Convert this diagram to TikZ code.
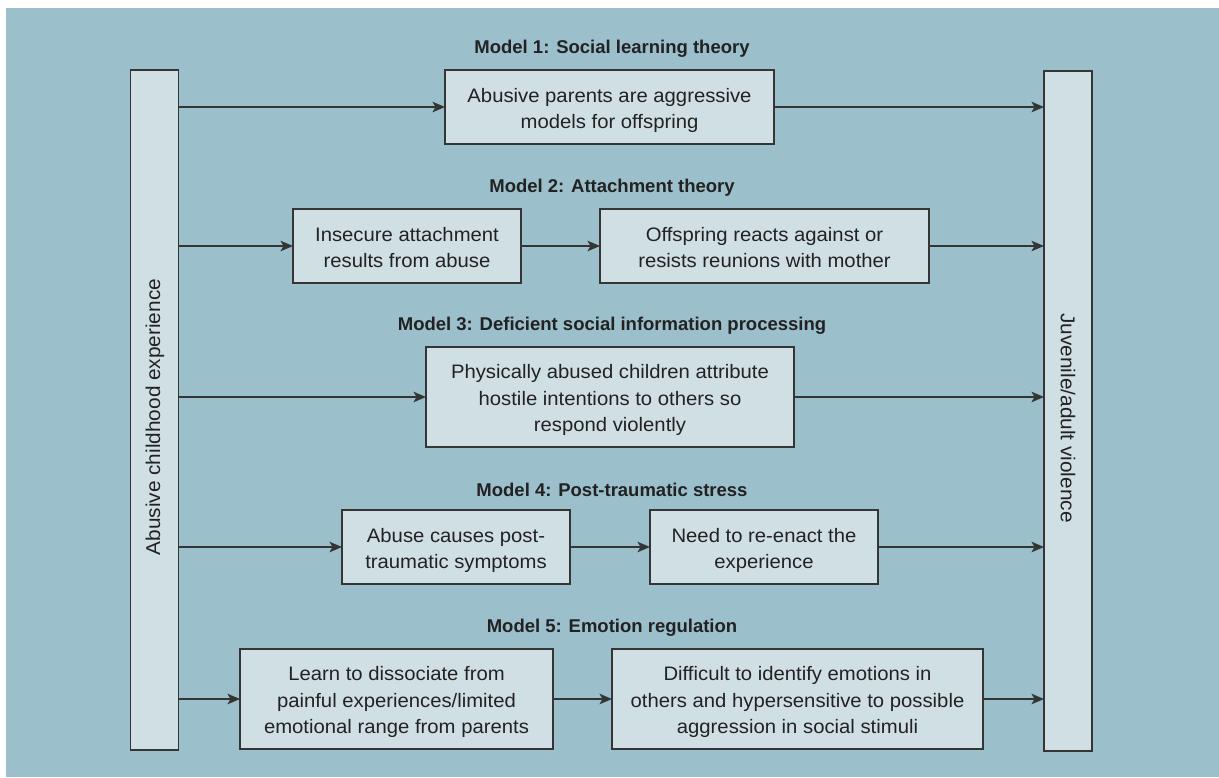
\documentclass[tikz,border=0pt]{standalone}
\usepackage{fontspec}
\setmainfont{Liberation Sans}[FakeStretch=1.04]
\newfontfamily\titlefont{Liberation Sans}[FakeStretch=1.0]
\usetikzlibrary{arrows.meta}
\definecolor{bgblue}{HTML}{9CBFCC}
\definecolor{boxfill}{HTML}{D0DFE4}
\definecolor{edge}{HTML}{353535}
\definecolor{ink}{HTML}{222222}
\newcommand{\bxtext}[1]{\raisebox{-3pt}[\height][\depth]{\begin{tabular}{@{}c@{}}#1\end{tabular}}}
\begin{document}
\begin{tikzpicture}[x=1pt,y=-1pt,
  every node/.style={inner sep=0pt,outer sep=0pt},
  box/.style={draw=edge,line width=1.8pt,fill=boxfill,text=ink,
    font=\fontsize{19.5}{26.5}\selectfont},
  bar/.style={box,minimum width=48pt,minimum height=680pt},
  title/.style={text=ink,font=\titlefont\bfseries\fontsize{18.5}{22}\selectfont},
  arr/.style={draw=edge,line width=1.6pt,-{Stealth[length=12.5pt,width=10.5pt,inset=3pt]}}]
\useasboundingbox (0,0) rectangle (1219,777);
\fill[bgblue] (6,8) rectangle (1219,777);
% side bars
\node[bar] (L) at (154.5,410) {};
\node[rotate=90,text=ink,font=\fontsize{20}{27}\selectfont] (Lt) at (155,417) {Abusive childhood experience};
\node[bar] (R) at (1068,411) {};
\node[rotate=-90,text=ink,font=\fontsize{20}{27}\selectfont] (Rt) at (1068,418) {Juvenile/adult violence};
% titles
\node[title] (T1) at (612,48.5) {Model 1: Social learning theory};
\node[title] (T2) at (612,187.5) {Model 2: Attachment theory};
\node[title] (T3) at (612,325.5) {Model 3: Deficient social information processing};
\node[title] (T4) at (612,489.5) {Model 4: Post-traumatic stress};
\node[title] (T5) at (612,627.5) {Model 5: Emotion regulation};
% boxes
\node[box,minimum width=329pt,minimum height=74pt] (B1) at (609.5,107) {\bxtext{Abusive parents are aggressive\\models for offspring}};
\node[box,minimum width=228pt,minimum height=74pt] (B2a) at (407,246) {\bxtext{Insecure attachment\\results from abuse}};
\node[box,minimum width=329pt,minimum height=74pt] (B2b) at (764.5,246) {\bxtext{Offspring reacts against or\\resists reunions with mother}};
\node[box,minimum width=368pt,minimum height=100pt] (B3) at (610,397) {\bxtext{Physically abused children attribute\\hostile intentions to others so\\respond violently}};
\node[box,minimum width=228pt,minimum height=74pt] (B4a) at (456,547) {\bxtext{Abuse causes post-\\traumatic symptoms}};
\node[box,minimum width=228pt,minimum height=74pt] (B4b) at (764,547) {\bxtext{Need to re-enact the\\experience}};
\node[box,minimum width=313pt,minimum height=100pt] (B5a) at (396.5,699) {\bxtext{Learn to dissociate from\\painful experiences/limited\\emotional range from parents}};
\node[box,minimum width=371pt,minimum height=100pt] (B5b) at (797.5,699) {\bxtext{Difficult to identify emotions in\\others and hypersensitive to possible\\aggression in social stimuli}};
% arrows
\draw[arr] (L.east |- B1.west) -- (B1.west);
\draw[arr] (B1.east) -- (R.west |- B1.east);
\draw[arr] (L.east |- B2a.west) -- (B2a.west);
\draw[arr] (B2a.east) -- (B2b.west);
\draw[arr] (B2b.east) -- (R.west |- B2b.east);
\draw[arr] (L.east |- B3.west) -- (B3.west);
\draw[arr] (B3.east) -- (R.west |- B3.east);
\draw[arr] (L.east |- B4a.west) -- (B4a.west);
\draw[arr] (B4a.east) -- (B4b.west);
\draw[arr] (B4b.east) -- (R.west |- B4b.east);
\draw[arr] (L.east |- B5a.west) -- (B5a.west);
\draw[arr] (B5a.east) -- (B5b.west);
\draw[arr] (B5b.east) -- (R.west |- B5b.east);
\end{tikzpicture}
\end{document}
